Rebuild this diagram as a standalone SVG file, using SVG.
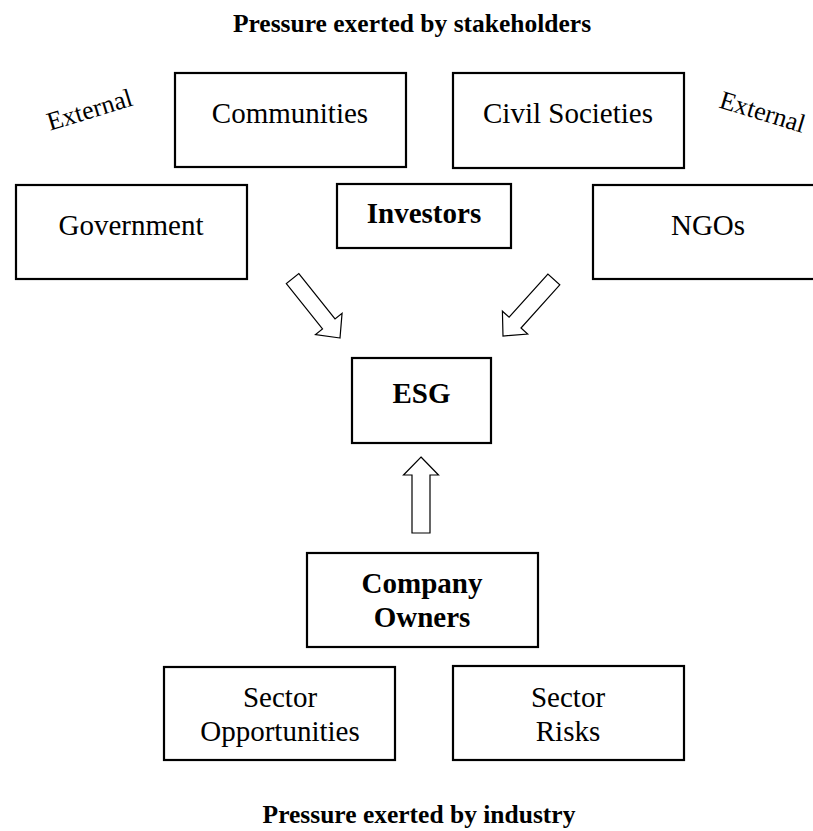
<svg xmlns="http://www.w3.org/2000/svg" width="813" height="831" viewBox="0 0 813 831">
<style>
text{font-family:"Liberation Serif","Times New Roman",serif;fill:#000}
.t{font-size:29px;text-anchor:middle}
.b{font-weight:bold}
.h{font-size:25.5px;font-weight:bold;text-anchor:middle}
.box{fill:#fff;stroke:#000;stroke-width:2.2}
.arr{fill:#fff;stroke:#000;stroke-width:1.2;stroke-linejoin:miter}
</style>
<defs>
<polygon id="blk" points="0,0 17,18 8,18 8,76 -8,76 -8,18 -17,18"/>
</defs>
<rect width="813" height="831" fill="#fff"/>
<text class="h" x="412" y="32">Pressure exerted by stakeholders</text>
<text class="h" x="419" y="823">Pressure exerted by industry</text>
<text style="font-size:26px;text-anchor:middle" transform="translate(92,118) rotate(-17)">External</text>
<text style="font-size:26px;text-anchor:middle" transform="translate(760,120) rotate(17)">External</text>
<g id="communities"><rect class="box" x="175" y="73" width="231" height="94"/><text class="t" x="290" y="123">Communities</text></g>
<g id="civil-societies"><rect class="box" x="453" y="73" width="231" height="95"/><text class="t" x="568" y="123">Civil Societies</text></g>
<g id="government"><rect class="box" x="16" y="185" width="231" height="94"/><text class="t" x="131" y="235">Government</text></g>
<g id="investors"><rect class="box" x="337" y="184" width="174" height="64"/><text class="t b" x="424" y="223">Investors</text></g>
<g id="ngos"><rect class="box" x="593" y="185" width="231" height="94"/><text class="t" x="708" y="235">NGOs</text></g>
<g id="esg"><rect class="box" x="352" y="358" width="139" height="85"/><text class="t b" x="421.5" y="403">ESG</text></g>
<g id="company-owners"><rect class="box" x="307" y="553" width="231" height="94"/><text class="t b" x="422" y="593">Company</text><text class="t b" x="422" y="627">Owners</text></g>
<g id="sector-opportunities"><rect class="box" x="164" y="667" width="231" height="93"/><text class="t" x="280" y="707">Sector</text><text class="t" x="280" y="741">Opportunities</text></g>
<g id="sector-risks"><rect class="box" x="453" y="666" width="231" height="94"/><text class="t" x="568" y="707">Sector</text><text class="t" x="568" y="741">Risks</text></g>
<g id="connectors">
<use href="#blk" class="arr" transform="translate(340,338) rotate(141.4)"/>
<use href="#blk" class="arr" transform="translate(503,336) rotate(-138)"/>
<polygon class="arr" points="421,457 438.5,475 430,475 430,533 412,533 412,475 403.5,475"/>
</g>
</svg>
